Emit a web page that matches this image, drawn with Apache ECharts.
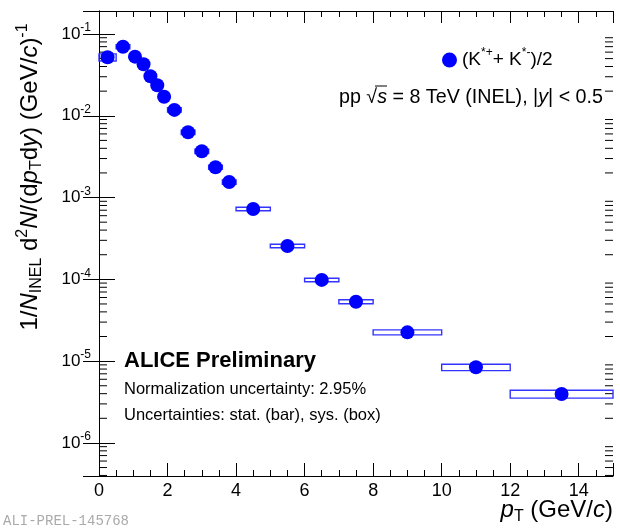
<!DOCTYPE html>
<html>
<head>
<meta charset="utf-8">
<script src="https://cdn.jsdelivr.net/npm/echarts@6/dist/echarts.min.js"></script>
<style>
html, body { margin: 0; padding: 0; background: #fff; }
#chart { width: 620px; height: 529px; }
</style>
</head>
<body>
<div id="chart"></div>
<script>
// K*(892)+- spectrum, pp 8 TeV
var ptLow    = [0, 0.5, 0.9, 1.2, 1.4, 1.6, 1.8, 2.0, 2.4, 2.8, 3.2, 3.6, 4, 5, 6, 7, 8, 10, 12];
var ptHigh   = [0.5, 0.9, 1.2, 1.4, 1.6, 1.8, 2.0, 2.4, 2.8, 3.2, 3.6, 4.0, 5, 6, 7, 8, 10, 12, 15];
var ptCenter = [0.25, 0.7, 1.05, 1.3, 1.5, 1.7, 1.9, 2.2, 2.6, 3.0, 3.4, 3.8, 4.5, 5.5, 6.5, 7.5, 9, 11, 13.5];
var yields   = [0.0519, 0.0699, 0.0528, 0.0427, 0.0304, 0.0236, 0.0171, 0.0118, 0.00628, 0.00368, 0.00235, 0.00155,
                0.000726, 0.000256, 0.0000984, 0.0000533, 0.0000225, 0.00000841, 0.00000397];
var sysRel   = [0.10, 0.06, 0.06, 0.06, 0.06, 0.06, 0.06, 0.06, 0.06, 0.06, 0.06, 0.06,
                0.05, 0.05, 0.05, 0.055, 0.07, 0.09, 0.11];
var yDecades = [-6, -5, -4, -3, -2, -1];
var xMin = 0, xMax = 15;
var yMin = 3.94e-7, yMax = 0.191;

var font = 'Liberation Sans';
var blue = '#0000ff';

var chart = echarts.init(document.getElementById('chart'));

var points = [];
var boxes = [];
for (var i = 0; i < ptCenter.length; i++) {
    points.push([ptCenter[i], yields[i]]);
    boxes.push([ptLow[i], ptHigh[i], yields[i] * (1 - sysRel[i]), yields[i] * (1 + sysRel[i])]);
}

// minor ticks of the log axis at 2..9 x 10^k
var minorVals = [];
for (var k = -7; k <= -1; k++) {
    for (var m = 2; m <= 9; m++) {
        var v = m * Math.pow(10, k);
        if (v > yMin && v < yMax) minorVals.push([xMin, v]);
    }
}

function yLabel(value) {
    var e = Math.log(value) / Math.LN10;
    var k = Math.round(e);
    if (Math.abs(e - k) > 1e-6 || yDecades.indexOf(k) < 0) return '';
    return '{b|10}{s|' + k + '}';
}

var titleRich = {
    n: {fontFamily: font, fontSize: 24, lineHeight: 30, fill: '#000'},
    i: {fontFamily: font, fontSize: 24, lineHeight: 30, fontStyle: 'italic', fill: '#000'},
    sub: {fontFamily: font, fontSize: 16, lineHeight: 16, verticalAlign: 'bottom', fill: '#000'},
    sup: {fontFamily: font, fontSize: 16, lineHeight: 16, verticalAlign: 'top', fill: '#000'}
};

var option = {
    animation: false,
    backgroundColor: '#fff',
    grid: {left: 99, right: 7, top: 11, bottom: 53},
    legend: {
        left: 437, top: 42,
        itemWidth: 15, itemHeight: 15, itemGap: 0,
        data: [{name: 'kstar', icon: 'circle'}],
        formatter: function () { return '{n|(K}{s|*+}{n|+ K}{s|*-}{n|)/2}'; },
        textStyle: {
            rich: {
                n: {fontFamily: font, fontSize: 19, lineHeight: 26, color: '#000'},
                s: {fontFamily: font, fontSize: 12, lineHeight: 12, verticalAlign: 'top', color: '#000'}
            }
        }
    },
    xAxis: [{
        type: 'value', min: xMin, max: xMax, interval: 2,
        axisLine: {lineStyle: {color: '#000', width: 1}},
        axisTick: {inside: true, length: 13, lineStyle: {color: '#000'}},
        minorTick: {show: true, splitNumber: 4, length: 6, lineStyle: {color: '#000'}},
        splitLine: {show: false},
        axisLabel: {fontFamily: font, fontSize: 18, color: '#000', margin: 6, showMaxLabel: false}
    }, {
        type: 'value', position: 'top', min: xMin, max: xMax, interval: 2,
        axisLine: {lineStyle: {color: '#000', width: 1}},
        axisTick: {inside: true, length: 12, lineStyle: {color: '#000'}},
        minorTick: {show: true, splitNumber: 4, length: 6, lineStyle: {color: '#000'}},
        splitLine: {show: false},
        axisLabel: {show: false}
    }],
    yAxis: [{
        type: 'log', logBase: 10, min: yMin, max: yMax,
        axisLine: {lineStyle: {color: '#000', width: 1}},
        axisTick: {inside: true, length: 16, lineStyle: {color: '#000'}},
        splitLine: {show: false},
        axisLabel: {
            margin: 8,
            showMinLabel: false, showMaxLabel: false,
            formatter: yLabel,
            rich: {
                b: {fontFamily: font, fontSize: 17, lineHeight: 24, color: '#000'},
                s: {fontFamily: font, fontSize: 12, lineHeight: 12, verticalAlign: 'top', color: '#000'}
            }
        }
    }, {
        type: 'log', logBase: 10, position: 'right', min: yMin, max: yMax,
        axisLine: {lineStyle: {color: '#000', width: 1}},
        axisTick: {inside: true, length: 16, lineStyle: {color: '#000'}},
        splitLine: {show: false},
        axisLabel: {show: false}
    }],
    series: [{
        // minor ticks on left and right frame
        type: 'custom',
        silent: true,
        data: minorVals,
        renderItem: function (params, api) {
            var l = api.coord([xMin, api.value(1)]);
            var r = api.coord([xMax, api.value(1)]);
            var st = {stroke: '#000', lineWidth: 1};
            return {
                type: 'group',
                children: [
                    {type: 'line', shape: {x1: l[0], y1: l[1], x2: l[0] + 8, y2: l[1]}, style: st},
                    {type: 'line', shape: {x1: r[0], y1: r[1], x2: r[0] - 8, y2: r[1]}, style: st}
                ]
            };
        }
    }, {
        // systematic boxes
        type: 'custom',
        silent: true,
        data: boxes,
        encode: {x: [0, 1], y: [2, 3]},
        renderItem: function (params, api) {
            var p1 = api.coord([api.value(0), api.value(3)]);
            var p2 = api.coord([api.value(1), api.value(2)]);
            return {
                type: 'rect',
                shape: {x: p1[0], y: p1[1], width: p2[0] - p1[0], height: p2[1] - p1[1]},
                style: {fill: 'none', stroke: '#3333ff', lineWidth: 1.4}
            };
        }
    }, {
        name: 'kstar',
        type: 'scatter',
        symbol: 'circle',
        symbolSize: 14,
        itemStyle: {color: blue, opacity: 1},
        data: points,
        z: 5
    }],
    graphic: [{
        type: 'text', x: 30, y: 177, rotation: Math.PI / 2,
        style: {
            text: '{n|1/}{i|N}{sub|INEL}{n| d}{sup|2}{i|N}{n|/(d}{i|p}{sub|T}{n|d}{i|y}{n|) (GeV/}{i|c}{n|)}{sup|-1}',
            rich: titleRich, align: 'center', verticalAlign: 'middle'
        }
    }, {
        type: 'text', x: 613, y: 510,
        style: {
            text: '{i|p}{sub|T}{n| (GeV/}{i|c}{n|)}',
            rich: {
                n: {fontFamily: font, fontSize: 24, lineHeight: 30, fill: '#000'},
                i: {fontFamily: font, fontSize: 24, lineHeight: 30, fontStyle: 'italic', fill: '#000'},
                sub: {fontFamily: font, fontSize: 16, lineHeight: 16, verticalAlign: 'bottom', fill: '#000'}
            },
            align: 'right', verticalAlign: 'middle'
        }
    }, {
        type: 'text', x: 339, y: 98,
        style: {
            text: '{n|pp \u221A}{i|s}{n| = 8 TeV (INEL), |}{i|y}{n|| < 0.5}',
            rich: {
                n: {fontFamily: font, fontSize: 19.7, fill: '#000'},
                i: {fontFamily: font, fontSize: 19.7, fontStyle: 'italic', fill: '#000'}
            },
            align: 'left', verticalAlign: 'middle'
        }
    }, {
        type: 'line', shape: {x1: 375, y1: 86, x2: 387, y2: 86},
        style: {stroke: '#000', lineWidth: 1}
    }, {
        type: 'text', x: 124, y: 361,
        style: {text: 'ALICE Preliminary', font: 'bold 22px ' + font, fill: '#000', align: 'left', verticalAlign: 'middle'}
    }, {
        type: 'text', x: 124, y: 389,
        style: {text: 'Normalization uncertainty: 2.95%', font: '16.5px ' + font, fill: '#000', align: 'left', verticalAlign: 'middle'}
    }, {
        type: 'text', x: 124, y: 415,
        style: {text: 'Uncertainties: stat. (bar), sys. (box)', font: '16.5px ' + font, fill: '#000', align: 'left', verticalAlign: 'middle'}
    }, {
        type: 'text', x: 3, y: 521,
        style: {text: 'ALI-PREL-145768', font: '14px Liberation Mono', fill: '#aaaaaa', align: 'left', verticalAlign: 'middle'}
    }]
};

chart.setOption(option);
</script>
</body>
</html>
